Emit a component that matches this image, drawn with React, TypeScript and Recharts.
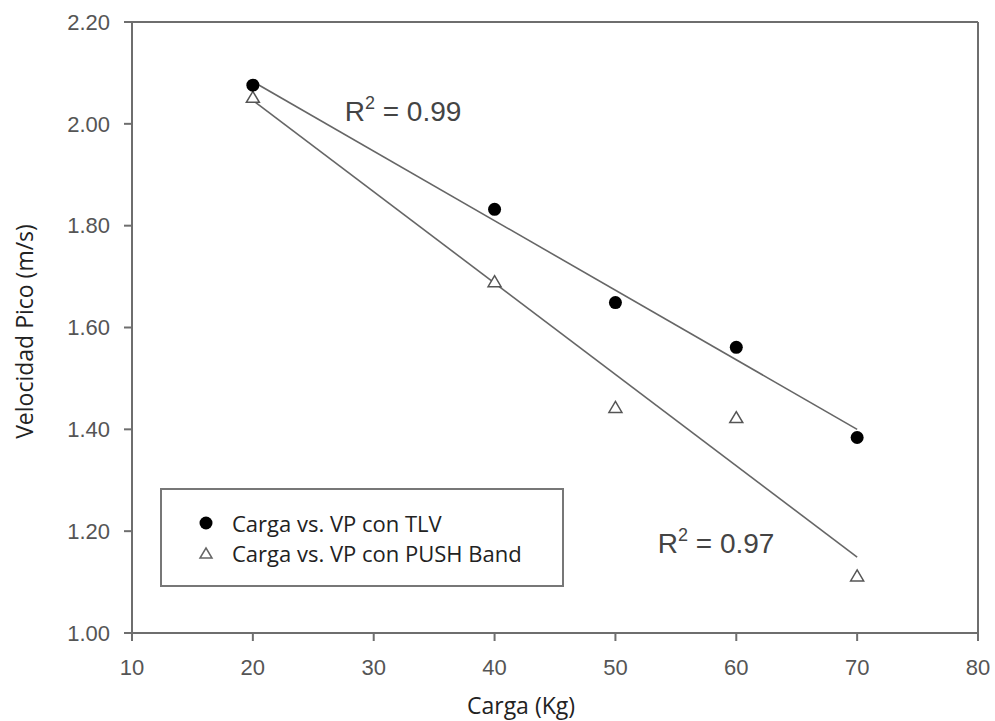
import React from "react";
import {
  ScatterChart,
  Scatter,
  XAxis,
  YAxis,
  ReferenceLine,
  ReferenceDot,
  Label,
} from "recharts";

const cargas = [20, 40, 50, 60, 70];
const vpTLV = [2.076, 1.832, 1.649, 1.561, 1.384];
const vpPush = [2.052, 1.69, 1.443, 1.423, 1.112];
const trendTLVEnds = [
  { x: 20, y: 2.083 },
  { x: 70, y: 1.4 },
];
const trendPushEnds = [
  { x: 20, y: 2.046 },
  { x: 70, y: 1.149 },
];
const xTicks = [10, 20, 30, 40, 50, 60, 70, 80];
const yTicks = [1.0, 1.2, 1.4, 1.6, 1.8, 2.0, 2.2];
const seriesNames = ["Carga vs. VP con TLV", "Carga vs. VP con PUSH Band"];
const r2Labels = [
  { x: 27.6, y: 2.02, text: "0.99" },
  { x: 53.5, y: 1.17, text: "0.97" },
];

const tlvData = cargas.map((c, i) => ({ x: c, y: vpTLV[i] }));
const pushData = cargas.map((c, i) => ({ x: c, y: vpPush[i] }));

const AXIS = "#6e6e6e";
const TICKFONT = "'Liberation Sans', Arial, sans-serif";
const TEXTFONT = "'Open Sans', 'Noto Sans', sans-serif";

const Circle = (p: any) => <circle cx={p.cx} cy={p.cy} r={6.5} fill="#000" />;
const Tri = (p: any) => (
  <path
    d={`M${p.cx},${p.cy - 6} L${p.cx + 6.5},${p.cy + 5} L${p.cx - 6.5},${p.cy + 5} Z`}
    fill="#fff"
    stroke="#555"
    strokeWidth={1.5}
  />
);
const Nothing = () => <g />;

const LegendBox = () => (
  <div
    style={{
      position: "absolute",
      left: 160,
      top: 488,
      width: 400,
      height: 95,
      border: "2px solid #777",
      fontFamily: TEXTFONT,
      fontSize: 22,
      color: "#222",
      boxSizing: "content-box",
    }}
  >
    <div style={{ position: "absolute", left: 34, top: 18, display: "flex", alignItems: "center", height: 30, whiteSpace: "nowrap" }}>
      <svg width={22} height={20}>
        <circle cx={10} cy={10} r={6.5} fill="#000" />
      </svg>
      <span style={{ marginLeft: 14 }}>{seriesNames[0]}</span>
    </div>
    <div style={{ position: "absolute", left: 34, top: 48, display: "flex", alignItems: "center", height: 30, whiteSpace: "nowrap" }}>
      <svg width={22} height={20}>
        <path d="M10,5 L16,15 L4,15 Z" fill="#fff" stroke="#666" strokeWidth={1.5} />
      </svg>
      <span style={{ marginLeft: 14 }}>{seriesNames[1]}</span>
    </div>
  </div>
);

const R2 = (text: string) => (props: any) => {
  const { viewBox } = props;
  const x = viewBox.cx ?? viewBox.x;
  const y = viewBox.cy ?? viewBox.y;
  return (
    <text x={x} y={y} fontFamily={TICKFONT} fontSize={28} fill="#444" dominantBaseline="middle">
      <tspan>R</tspan>
      <tspan fontSize={18} dy={-10}>2</tspan>
      <tspan dy={10}>{` = ${text}`}</tspan>
    </text>
  );
};

export default function App() {
  return (
    <div style={{ position: "absolute", left: 0, top: 0, width: 995, height: 721, background: "#fff" }}>
      <ScatterChart
        width={995}
        height={721}
        margin={{ top: 22, right: 17, bottom: 58, left: 0 }}
      >
        <XAxis
          type="number"
          dataKey="x"
          domain={[10, 80]}
          ticks={xTicks}
          height={30}
          allowDataOverflow
          stroke={AXIS}
          strokeWidth={2}
          tickSize={8}
          tickMargin={18}
          tick={{ fill: "#555", fontSize: 22, fontFamily: TICKFONT }}
          tickLine={{ stroke: AXIS, strokeWidth: 2 }}
        >
          <Label
            content={(props: any) => {
              const vb = props.viewBox;
              return (
                <text
                  x={vb.x + vb.width / 2 - 34}
                  y={vb.y + 81}
                  textAnchor="middle"
                  fontFamily={TEXTFONT}
                  fontSize={23}
                  fill="#222"
                >
                  Carga (Kg)
                </text>
              );
            }}
          />
        </XAxis>
        <YAxis
          type="number"
          dataKey="y"
          domain={[1.0, 2.2]}
          ticks={yTicks}
          width={132}
          allowDataOverflow
          stroke={AXIS}
          strokeWidth={2}
          tickSize={8}
          tickMargin={14}
          tickFormatter={(v: number) => v.toFixed(2)}
          tick={{ fill: "#555", fontSize: 22, fontFamily: TICKFONT }}
          tickLine={{ stroke: AXIS, strokeWidth: 2 }}
        >
          <Label
            content={(props: any) => {
              const vb = props.viewBox;
              const cy = vb.y + vb.height / 2 + 4;
              return (
                <text
                  x={27}
                  y={cy}
                  transform={`rotate(-90, 27, ${cy})`}
                  textAnchor="middle"
                  dominantBaseline="middle"
                  fontFamily={TEXTFONT}
                  fontSize={23}
                  fill="#222"
                >
                  Velocidad Pico (m/s)
                </text>
              );
            }}
          />
        </YAxis>
        <ReferenceLine y={2.2} stroke={AXIS} strokeWidth={2} ifOverflow="visible" />
        <ReferenceLine x={80} stroke={AXIS} strokeWidth={2} ifOverflow="visible" />
        <Scatter
          data={trendTLVEnds}
          line={{ stroke: "#666", strokeWidth: 1.6 }}
          shape={Nothing}
          isAnimationActive={false}
          legendType="none"
        />
        <Scatter
          data={trendPushEnds}
          line={{ stroke: "#666", strokeWidth: 1.6 }}
          shape={Nothing}
          isAnimationActive={false}
          legendType="none"
        />
        <Scatter name={seriesNames[1]} data={pushData} shape={Tri} isAnimationActive={false} />
        <Scatter name={seriesNames[0]} data={tlvData} shape={Circle} isAnimationActive={false} />
        {r2Labels.map((l) => (
          <ReferenceDot
            key={l.text}
            x={l.x}
            y={l.y}
            r={0}
            fill="none"
            stroke="none"
            ifOverflow="visible"
            label={R2(l.text)}
          />
        ))}
      </ScatterChart>
      <LegendBox />
    </div>
  );
}
